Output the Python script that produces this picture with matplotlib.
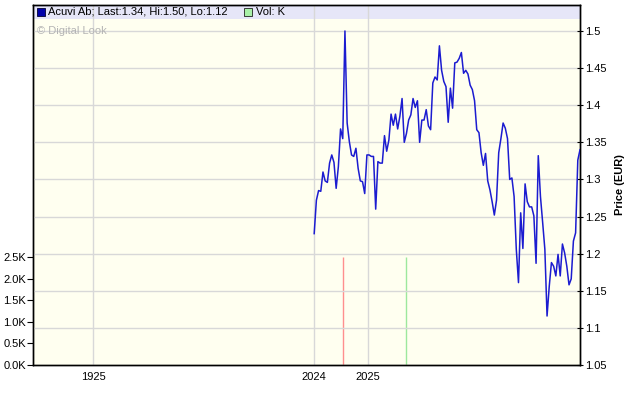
import matplotlib
matplotlib.use("Agg")
import matplotlib.pyplot as plt
from matplotlib.patches import Rectangle
import numpy as np

plt.rcParams['font.family'] = ['Liberation Sans', 'DejaVu Sans']

# ---- data ----
price = [1.227, 1.272, 1.285, 1.284, 1.310, 1.298, 1.296, 1.322, 1.333, 1.323,
         1.288, 1.317, 1.368, 1.355, 1.500, 1.376, 1.351, 1.333, 1.331, 1.342,
         1.315, 1.298, 1.297, 1.281, 1.333, 1.333, 1.331, 1.331, 1.260, 1.324,
         1.322, 1.322, 1.359, 1.338, 1.353, 1.388, 1.373, 1.388, 1.368, 1.385,
         1.409, 1.350, 1.362, 1.380, 1.387, 1.409, 1.397, 1.406, 1.350, 1.380,
         1.380, 1.394, 1.372, 1.367, 1.430, 1.438, 1.434, 1.480, 1.447, 1.432,
         1.425, 1.377, 1.423, 1.396, 1.457, 1.458, 1.463, 1.471, 1.443, 1.447,
         1.442, 1.427, 1.421, 1.406, 1.367, 1.363, 1.336, 1.319, 1.335, 1.298,
         1.286, 1.270, 1.252, 1.272, 1.336, 1.355, 1.376, 1.369, 1.355, 1.300,
         1.302, 1.277, 1.206, 1.161, 1.255, 1.207, 1.294, 1.270, 1.263, 1.263,
         1.251, 1.187, 1.332, 1.277, 1.242, 1.206, 1.116, 1.156, 1.188, 1.183,
         1.170, 1.199, 1.170, 1.213, 1.201, 1.183, 1.158, 1.166, 1.217, 1.228,
         1.326, 1.340]
vol_index = [13, 42]          # sample index of each volume bar
vol_k = [2.5, 2.5]            # volume, thousands
vol_colors = ['#ff8f8f', '#9de89d']

xtick_labels = ['1925', '2024', '2025']
xtick_pos = [-100.5, 0.0, 24.6]
price_ticks = [1.05, 1.1, 1.15, 1.2, 1.25, 1.3, 1.35, 1.4, 1.45, 1.5]
price_tick_labels = ['1.05', '1.1', '1.15', '1.2', '1.25', '1.3', '1.35', '1.4', '1.45', '1.5']
vol_ticks = [0.0, 0.5, 1.0, 1.5, 2.0, 2.5]
vol_tick_labels = ['0.0K', '0.5K', '1.0K', '1.5K', '2.0K', '2.5K']

x = np.arange(len(price))

W, H = 640, 401
fig = plt.figure(figsize=(W / 100, H / 100), dpi=100)
fig.patch.set_facecolor('white')

L, R, T, B = 33, 580, 5, 365
ax = fig.add_axes([L / W, (H - B) / H, (R - L) / W, (B - T) / H])
ax.set_facecolor('#fffff0')
ax.set_xlim(-128.0, len(price) - 1)
ax.set_ylim(0, 8.37)

# header band
band_h = 13.5 / (B - T)
ax.add_patch(Rectangle((0, 1 - band_h), 1, band_h, transform=ax.transAxes,
                       facecolor='#e6e6f8', edgecolor='none', zorder=0.1))

ax.set_xticks(xtick_pos)
ax.set_xticklabels(xtick_labels)
ax.grid(axis='x', color='#d8d8d8', lw=1.0, zorder=0.3)
ax.set_axisbelow(True)
ax.set_yticks(vol_ticks)
ax.set_yticklabels(vol_tick_labels)
ax.tick_params(axis='y', direction='out', length=4, width=0.8, labelsize=8, pad=1)
ax.tick_params(axis='x', length=0, labelsize=8, pad=5)

ax.vlines(vol_index, 0, vol_k, colors=vol_colors, lw=1.0, zorder=1)

axp = ax.twinx()
axp.set_ylim(1.05, 1.535)
axp.set_yticks(price_ticks)
axp.set_yticklabels(price_tick_labels)
axp.grid(axis='y', color='#d8d8d8', lw=1.0)
axp.set_axisbelow(True)
axp.tick_params(axis='y', direction='inout', length=5, width=0.8, labelsize=8, pad=1)
axp.plot(x, price, color='#1c1cd0', lw=1.1, zorder=3)
axp.set_ylabel('Price (EUR)', fontsize=8, fontweight='bold', labelpad=6)

for a in (ax, axp):
    for s in a.spines.values():
        s.set_linewidth(1.0)
        s.set_color('black')

# header text
fig.patches.append(Rectangle((37 / W, 1 - 16 / H), 8 / W, 8 / H, transform=fig.transFigure,
                             facecolor='#0000aa', edgecolor='#000033', lw=0.6))
fig.text(48 / W, 1 - 12 / H, 'Acuvi Ab; Last:1.34, Hi:1.50, Lo:1.12', fontsize=8,
         va='center', ha='left', color='black')
fig.patches.append(Rectangle((244 / W, 1 - 16 / H), 8 / W, 8 / H, transform=fig.transFigure,
                             facecolor='#a8f0a8', edgecolor='#202020', lw=0.6))
fig.text(256 / W, 1 - 12 / H, 'Vol: K', fontsize=8, va='center', ha='left', color='black')
fig.text(37 / W, 1 - 31 / H, '\u00a9 Digital Look', fontsize=8, va='center', ha='left',
         color='#b4b4b4')

fig.savefig('out.png', dpi=100)
